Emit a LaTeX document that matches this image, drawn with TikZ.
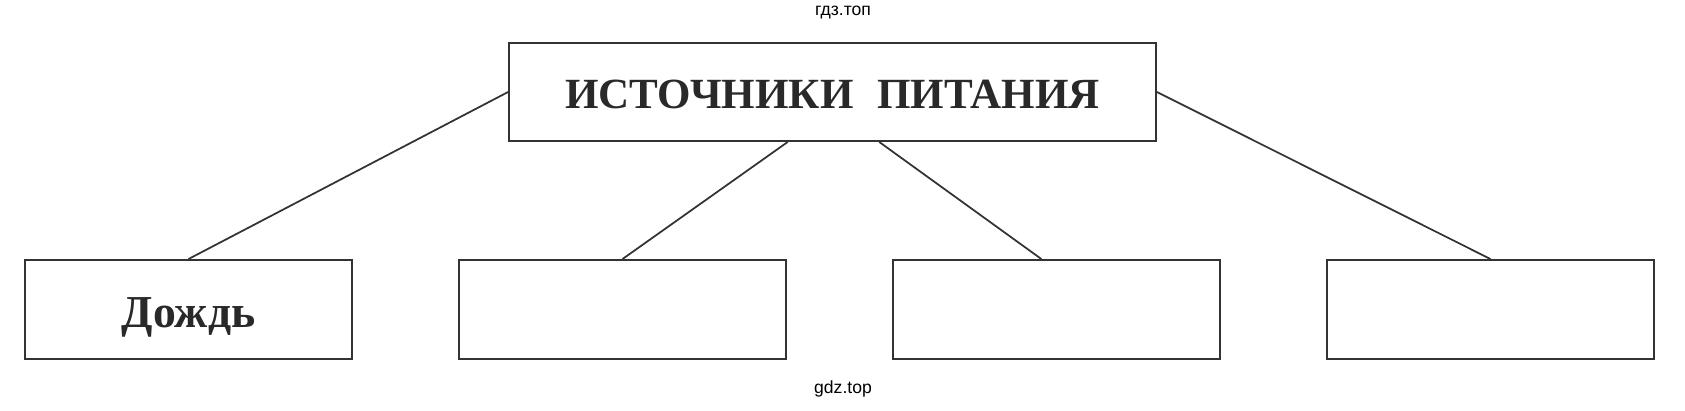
\documentclass[tikz,border=0pt]{standalone}
\usepackage{fontspec}
\setmainfont{Liberation Serif}
\newfontfamily\wmfont{Liberation Sans}
\usetikzlibrary{positioning,calc}
\definecolor{ink}{HTML}{333333}
\tikzset{
  headbox/.style={draw=ink, line width=1.1pt, minimum width=12.94cm, minimum height=1.96cm,
    inner sep=0pt, text=ink!80!black, font=\bfseries\fontsize{24.5}{28}\selectfont},
  leafbox/.style={draw=ink, line width=1.1pt, minimum width=6.54cm, minimum height=1.98cm,
    inner sep=0pt, text=ink!80!black, font=\bfseries\fontsize{26}{28}\selectfont},
  link/.style={draw=ink, line width=1pt},
  wmark/.style={font=\wmfont\fontsize{10}{12}\selectfont, text=black}
}

\begin{document}
\begin{tikzpicture}[x=0.02cm, y=-0.02cm]
\useasboundingbox (0,0) rectangle (1685,411);

% watermarks
\node[wmark] (wmtop) at (843,13) {гдз.топ};
\node[wmark] (wmbot) at (843,389) {gdz.top};

% head box
\node[headbox] (head) at (832.5,92) {\smash{\raisebox{-9.6pt}{ИСТОЧНИКИ\hspace{0.55em}ПИТАНИЯ}}};

% row of four boxes, only the first one is filled in
\foreach \i/\txt in {1/Дождь, 2/{}, 3/{}, 4/{}} {
  \node[leafbox] (b\i) at ({188.5+434*(\i-1)},309.5) {\smash{\raisebox{-10pt}{\txt}}};
}

% links from the head box down to the row
\draw[link] (head.west) -- (b1.north);
\draw[link] ($(head.south west)!0.431!(head.south east)$) -- (b2.north);
\draw[link] ($(head.south west)!0.572!(head.south east)$) -- ($(b3.north west)!0.454!(b3.north east)$);
\draw[link] (head.east) -- (b4.north);
\end{tikzpicture}
\end{document}
